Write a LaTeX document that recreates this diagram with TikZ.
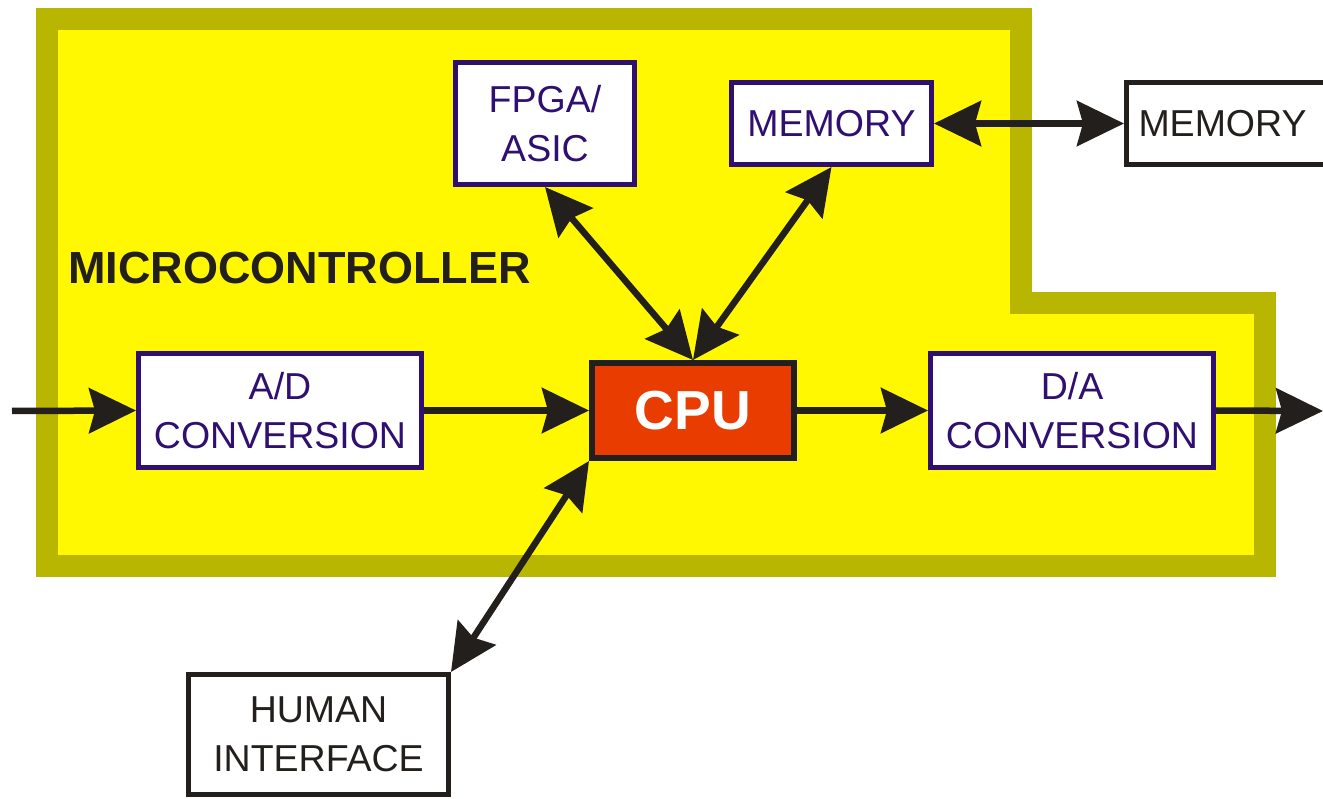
\documentclass[tikz,border=0pt]{standalone}
\usepackage{fontspec}
\setmainfont{Liberation Sans}
\usetikzlibrary{arrows.meta}
\definecolor{ylw}{HTML}{FFF800}
\definecolor{olive2}{HTML}{B8B600}
\definecolor{purp}{HTML}{2F0F70}
\definecolor{dark}{HTML}{231F1C}
\definecolor{cpured}{HTML}{E83C00}
\tikzset{
  inbox/.style={draw=purp, line width=5pt, fill=white, text=purp, align=center,
    font=\fontsize{37.5}{49}\selectfont, inner sep=0pt},
  outbox/.style={draw=dark, line width=5pt, fill=white, text=dark, align=center,
    font=\fontsize{37.5}{49}\selectfont, inner sep=0pt},
  cpubox/.style={draw=dark, line width=6pt, fill=cpured, text=white,
    font=\fontsize{55}{60}\selectfont\bfseries, inner sep=0pt},
  tipshape/.tip={Stealth[length=47pt,width=45pt,inset=6pt]},
  arr/.style={draw=dark, line width=6.5pt, -tipshape},
  biarr/.style={draw=dark, line width=6.5pt, tipshape-tipshape},
}
\begin{document}
\begin{tikzpicture}[x=1pt,y=-1pt]
\useasboundingbox (0,0) rectangle (1323,799);
% microcontroller frame
\draw[draw=olive2, fill=ylw, line width=22pt, miter limit=10]
  (46.5,19) -- (1021,19) -- (1021,303) -- (1265,303) -- (1265,566) -- (46.5,566) -- cycle;
\node[anchor=base west, inner sep=0pt, text=dark, font=\fontsize{45}{50}\selectfont\bfseries]
  (mclabel) at (68,284) {MICROCONTROLLER};
% nodes
\node[inbox, minimum width=179pt, minimum height=122pt] (fpga) at (545,123.5) {FPGA/\\ASIC};
\node[inbox, minimum width=200pt, minimum height=82pt] (memin) at (831.5,123.5) {MEMORY};
\node[outbox, minimum height=82pt, text width=190pt, align=left, inner xsep=12pt] (memout) at (1233.5,123.5) {MEMORY};
\node[inbox, minimum width=283pt, minimum height=114pt] (ad) at (280,410.5) {A/D\\CONVERSION};
\node[cpubox, minimum width=202pt, minimum height=95pt] (cpu) at (693,410.5) {CPU};
\node[inbox, minimum width=283pt, minimum height=114pt] (da) at (1072,410.5) {D/A\\CONVERSION};
\node[outbox, minimum width=260pt, minimum height=120pt] (human) at (318.5,734.5) {HUMAN\\INTERFACE};
\coordinate (in) at (12,411);
\coordinate (out) at (1323,411);
% connectors
\draw[arr] (in) -- (ad.west);
\draw[arr] (ad.east) -- (ad.east -| cpu.west);
\draw[arr] (cpu.east) -- (cpu.east -| da.west);
\draw[arr] (da.east) -- (out);
\draw[biarr] (fpga.south) -- (cpu.north);
\draw[biarr] (memin.south) -- (cpu.north);
\draw[biarr] (memin.east) -- (memout.west);
\draw[biarr] (cpu.south west) -- (human.north east);
\end{tikzpicture}
\end{document}
